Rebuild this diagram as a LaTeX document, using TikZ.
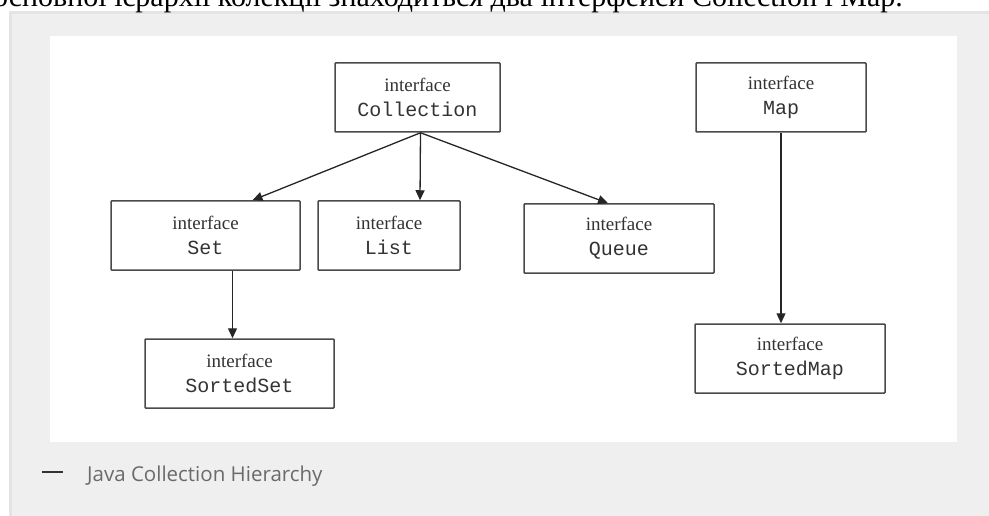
\documentclass[tikz,border=0pt]{standalone}
\usepackage{fontspec}
\setmainfont{Liberation Serif}
\setmonofont{Liberation Mono}
\newfontfamily\capfont{Open Sans}
\usetikzlibrary{arrows.meta}
\definecolor{panelgray}{HTML}{EFEFEF}
\definecolor{paneledge}{HTML}{E4E4E4}
\definecolor{boxline}{HTML}{4A4A4A}
\definecolor{txtgray}{HTML}{333333}
\definecolor{capgray}{HTML}{6A6A6A}
\newcommand{\iface}[1]{interface\\{\ttfamily\fontsize{20}{25}\selectfont #1}}
\tikzset{
  ibox/.style={draw=boxline, line width=1.5pt, fill=white, align=center, inner sep=0pt,
    text=txtgray, rounded corners=0.8pt, font=\fontsize{19}{25}\selectfont,
    minimum height=69pt},
  conn/.style={draw=black!85, line width=1.3pt, -{Triangle[length=10pt,width=9pt]}}
}
\begin{document}
\begin{tikzpicture}[x=1pt,y=-1pt]
\useasboundingbox (0,0) rectangle (989,516);
\fill[white] (0,0) rectangle (989,516);
% panel
\fill[paneledge] (9,11) rectangle (995,520);
\fill[panelgray] (12,14) rectangle (995,520);
\fill[white] (50,36) rectangle (957,442);
% cut-off sentence at the top
\node[anchor=base east, inner sep=0, font=\fontsize{30}{33}\selectfont] (topline) at (903,7) {На вершині основної ієрархії колекції знаходиться два інтерфейси Collection і Map.};
% nodes
\node[ibox, minimum width=165pt] (coll) at (417.5,97.5) {\iface{Collection}};
\node[ibox, minimum width=170pt] (map) at (781,97.5) {\iface{Map}};
\node[ibox, minimum width=189pt] (set) at (205.5,235.5) {\iface{Set}};
\node[ibox, minimum width=142pt] (list) at (389,235.5) {\iface{List}};
\node[ibox, minimum width=190pt] (queue) at (619,238.5) {\iface{Queue}};
\node[ibox, minimum width=189pt] (sset) at (239.5,373.5) {\iface{SortedSet}};
\node[ibox, minimum width=190pt] (smap) at (790,358.5) {\iface{SortedMap}};
% connectors
\coordinate (cs) at ([xshift=3pt]coll.south);
\draw[conn] (cs) -- ([xshift=47pt]set.north);
\draw[conn] (cs) -- ([xshift=31pt]list.north);
\draw[conn] (cs) -- ([xshift=-11pt]queue.north);
\draw[conn] (map.south) -- ([xshift=-9pt]smap.north);
\draw[conn] ([xshift=27pt]set.south) -- ([xshift=-7pt]sset.north);
% caption
\draw[black!80, line width=2.5pt] (42,472) -- (63,472);
\node[anchor=west, inner sep=0, text=capgray, font=\capfont\fontsize{20.5}{24}\selectfont] (cap) at (87,476) {Java Collection Hierarchy};
\end{tikzpicture}
\end{document}
